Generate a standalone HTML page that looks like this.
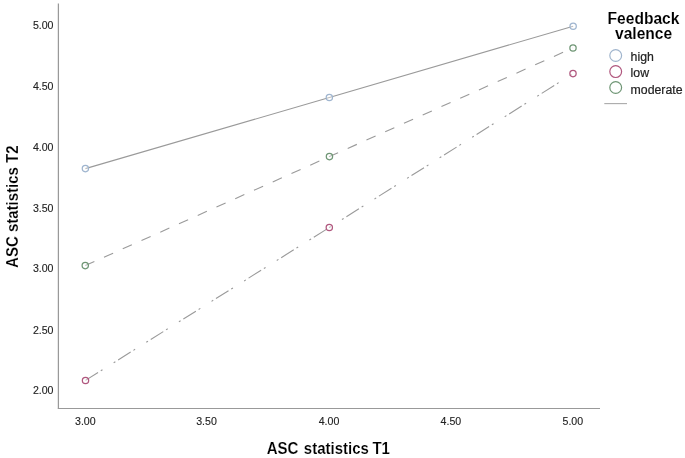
<!DOCTYPE html>
<html><head><meta charset="utf-8">
<style>
html,body{margin:0;padding:0;background:#fff;}
body{width:685px;height:458px;overflow:hidden;}
svg{display:block;}
text{font-family:"Liberation Sans",Arial,sans-serif;}
.tk{font-size:10.6px;fill:#222;stroke:#222;stroke-width:0.12px;}
.ttl{font-size:15px;font-weight:bold;fill:#000;stroke:#fff;stroke-width:0.15px;}
.lt{font-size:15.6px;font-weight:bold;fill:#000;stroke:#fff;stroke-width:0.1px;}
.lg{font-size:12.3px;fill:#222;stroke:#222;stroke-width:0.2px;}
</style></head><body>
<svg width="685" height="458" viewBox="0 0 685 458">
<!-- axes -->
<line x1="58.4" y1="3.5" x2="58.4" y2="408.5" stroke="#999" stroke-width="1.25"/>
<line x1="57.8" y1="408.5" x2="600" y2="408.5" stroke="#999" stroke-width="1.2"/>
<!-- y tick labels -->
<g class="tk" text-anchor="end">
<text x="53.5" y="28.9">5.00</text>
<text x="53.5" y="89.7">4.50</text>
<text x="53.5" y="150.6">4.00</text>
<text x="53.5" y="212.3">3.50</text>
<text x="53.5" y="272.2">3.00</text>
<text x="53.5" y="333.8">2.50</text>
<text x="53.5" y="393.9">2.00</text>
</g>
<!-- x tick labels -->
<g class="tk" text-anchor="middle">
<text x="85.3" y="424.7">3.00</text>
<text x="206.5" y="424.7">3.50</text>
<text x="329" y="424.7">4.00</text>
<text x="450.9" y="424.7">4.50</text>
<text x="572.8" y="424.7">5.00</text>
</g>
<!-- axis titles -->
<text class="ttl" transform="translate(328.3,453.9) scale(1,1.06)" text-anchor="middle">ASC<tspan dx="1.4"> statistics</tspan><tspan dx="-0.5"> T1</tspan></text>
<text class="ttl" transform="translate(17.5,206.7) rotate(-90) scale(1,1.04)" text-anchor="middle">ASC statistics T2</text>
<!-- lines -->
<polyline points="85.4,168.6 329.35,97.55 573.15,26.2" fill="none" stroke="#9a9a9a" stroke-width="1.1"/>
<polyline points="85.25,265.6 329.45,156.6 573,47.9" fill="none" stroke="#9a9a9a" stroke-width="1.1" stroke-dasharray="10 10.53"/>
<polyline points="85.5,380.4 329.3,227.5 573,73.6" fill="none" stroke="#9a9a9a" stroke-width="1.1" stroke-dasharray="14.8 3.25 2 13.2 2 3.25"/>
<!-- markers -->
<g fill="#fff" fill-opacity="0.35" stroke-width="1.25">
<circle cx="85.4" cy="168.6" r="3.15" stroke="#9fb5cf"/>
<circle cx="329.35" cy="97.55" r="3.15" stroke="#9fb5cf"/>
<circle cx="573.15" cy="26.2" r="3.15" stroke="#9fb5cf"/>
<circle cx="85.25" cy="265.6" r="3.15" stroke="#6f9675"/>
<circle cx="329.45" cy="156.6" r="3.15" stroke="#6f9675"/>
<circle cx="573" cy="47.9" r="3.15" stroke="#6f9675"/>
<circle cx="85.5" cy="380.4" r="3.15" stroke="#b0577e"/>
<circle cx="329.3" cy="227.5" r="3.15" stroke="#b0577e"/>
<circle cx="573" cy="73.6" r="3.15" stroke="#b0577e"/>
</g>
<!-- legend -->
<text class="lt" x="643.5" y="23.8" text-anchor="middle">Feedback</text>
<text class="lt" x="643.6" y="39.2" text-anchor="middle">valence</text>
<g fill="none" stroke-width="1.2">
<circle cx="615.7" cy="55.5" r="5.9" stroke="#a0b5cd"/>
<circle cx="615.7" cy="71.6" r="5.9" stroke="#b0577e"/>
<circle cx="615.7" cy="87.5" r="5.9" stroke="#6f9675"/>
</g>
<g class="lg">
<text x="630.6" y="60.6">high</text>
<text x="630.6" y="77.0">low</text>
<text x="630.6" y="93.5">moderate</text>
</g>
<line x1="604.3" y1="103.6" x2="627" y2="103.6" stroke="#aaa" stroke-width="1.1"/>
</svg>
</body></html>
